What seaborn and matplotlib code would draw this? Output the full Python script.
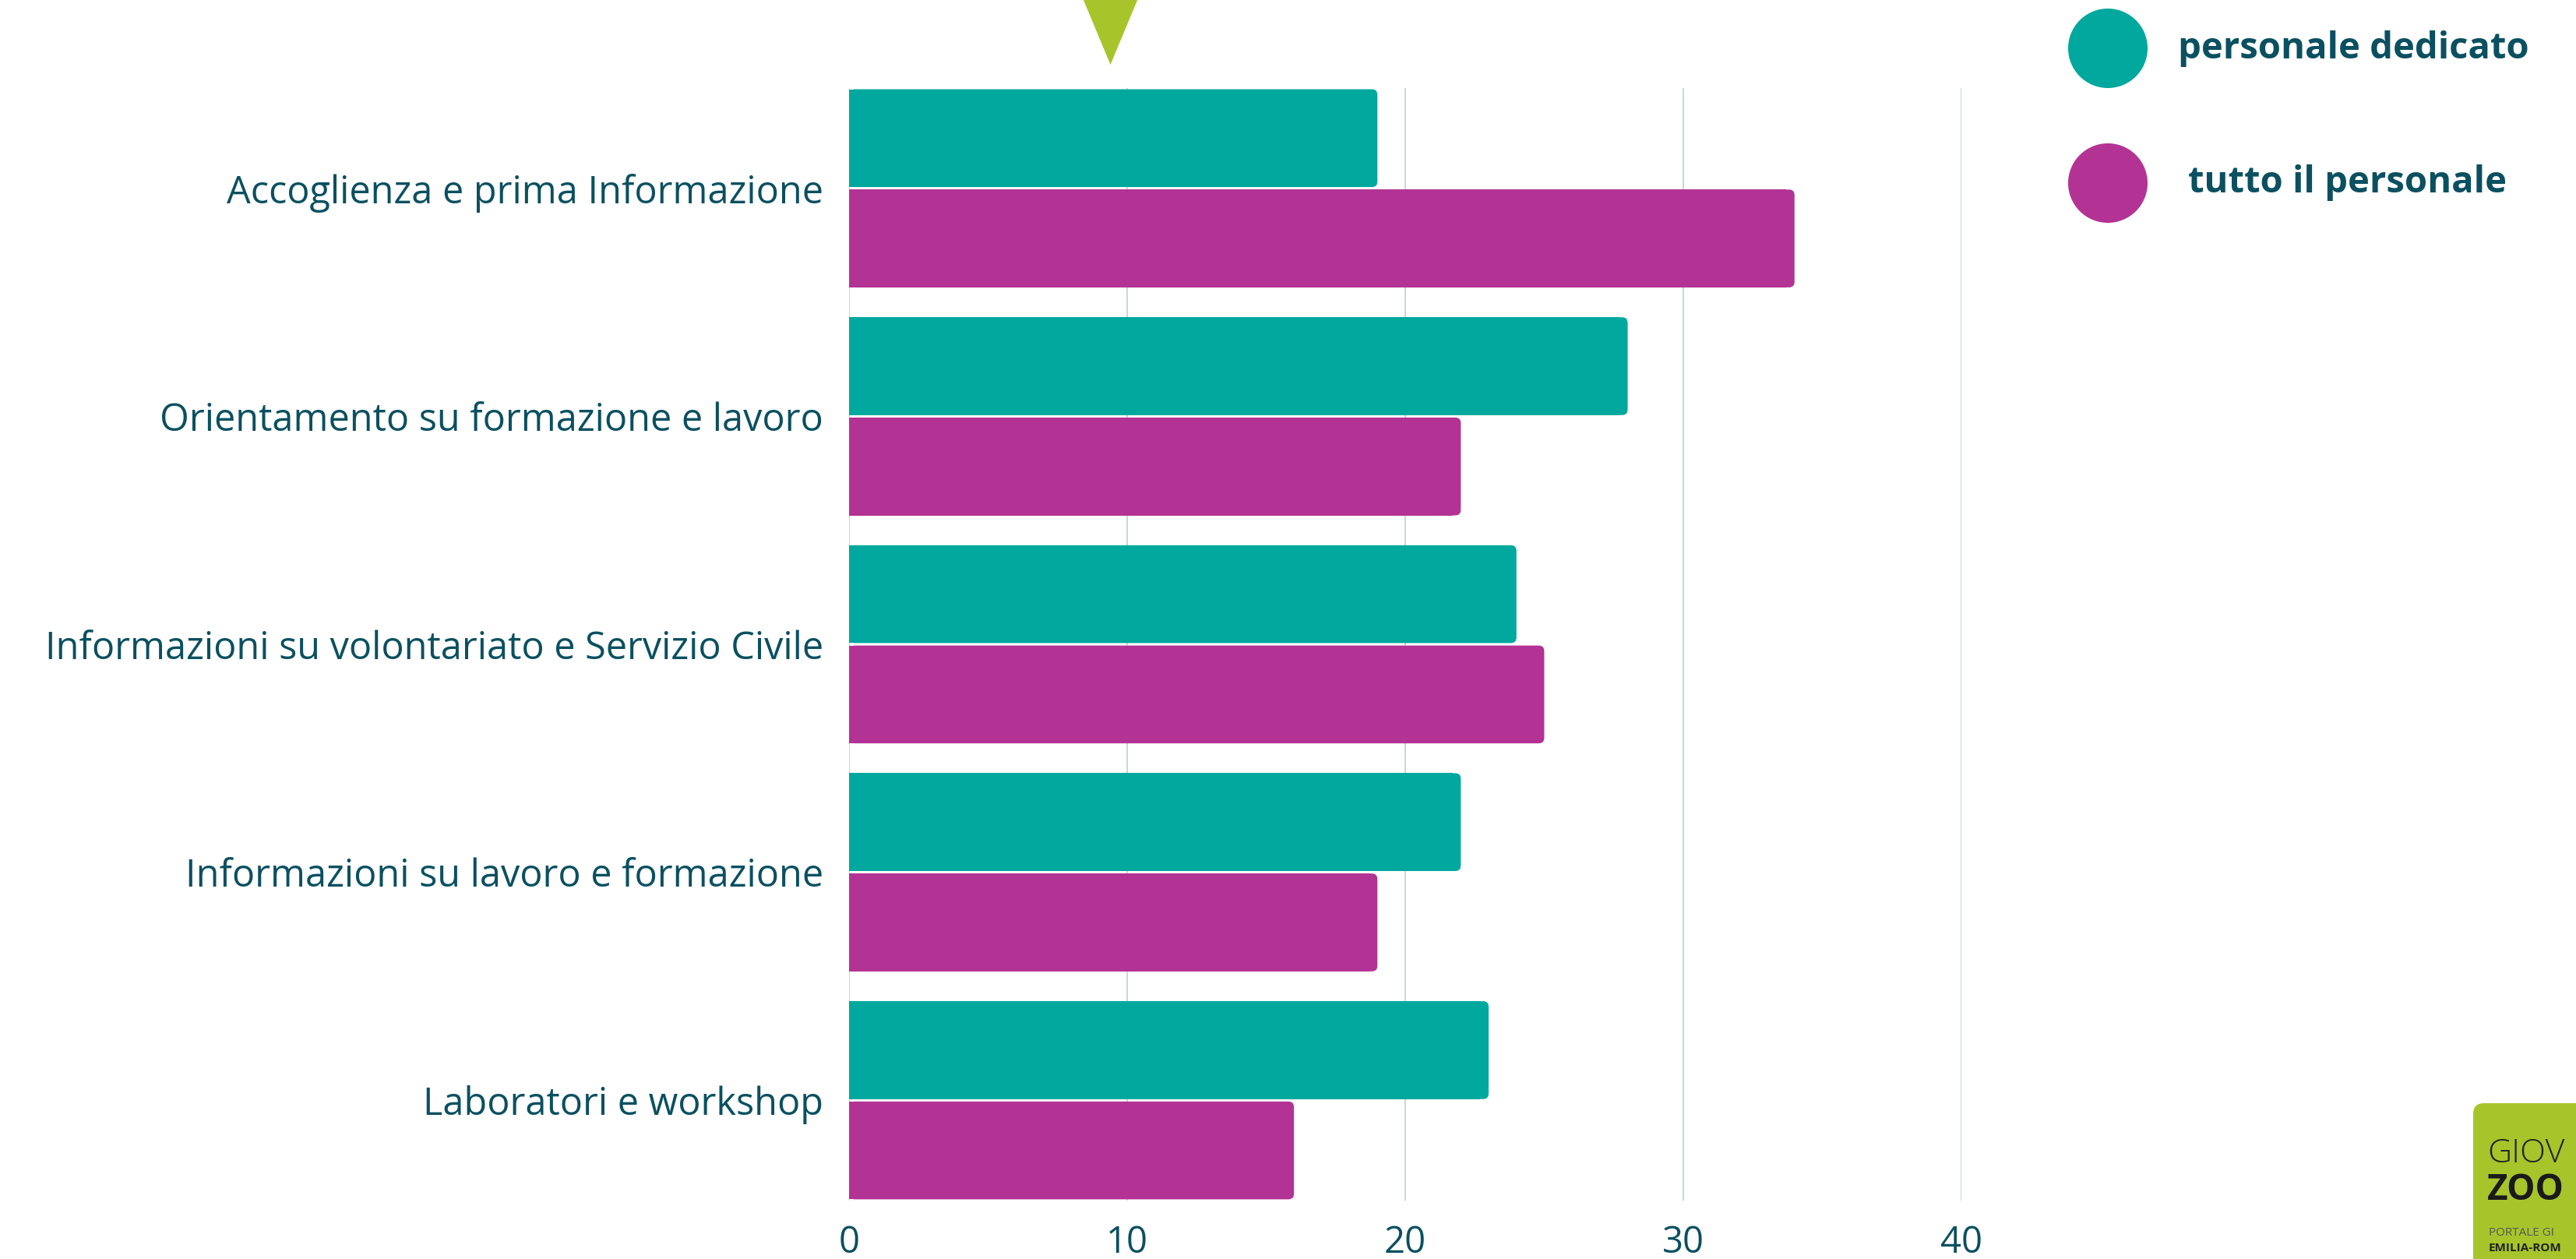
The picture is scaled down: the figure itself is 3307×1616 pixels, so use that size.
import pandas as pd
import seaborn as sns
import matplotlib.pyplot as plt
from matplotlib.patches import Circle, Polygon, FancyBboxPatch
from matplotlib.transforms import blended_transform_factory

# Data
categories = [
    "Accoglienza e prima Informazione",
    "Orientamento su formazione e lavoro",
    "Informazioni su volontariato e Servizio Civile",
    "Informazioni su lavoro e formazione",
    "Laboratori e workshop",
]
personale_dedicato = [19, 28, 24, 22, 23]
tutto_personale = [34, 22, 25, 19, 16]
series_names = ["personale dedicato", "tutto il personale"]
x_ticks = [0, 10, 20, 30, 40]
marker_value = 9.4  # green triangle on top

TEAL = "#00a89d"
MAGENTA = "#b33394"
TEXT = "#0b5060"
GREEN = "#a7c52b"

df = pd.DataFrame({
    "categoria": categories * 2,
    "valore": personale_dedicato + tutto_personale,
    "serie": [series_names[0]] * len(categories) + [series_names[1]] * len(categories),
})

sns.set_style("white")
plt.rcParams["font.family"] = ["Open Sans", "DejaVu Sans"]

fig = plt.figure(figsize=(33.07, 16.16), dpi=100)
ax = fig.add_axes([0.3296, 0.0464, 0.4318, 0.8837])

sns.barplot(data=df, y="categoria", x="valore", hue="serie",
            palette=[TEAL, MAGENTA], saturation=1, width=0.88, gap=0.025,
            orient="h", linewidth=0, legend=False, ax=ax)

ax.set_xlim(0, 40)
ax.set_ylim(len(categories) - 1 + 0.44, -0.44)

# round the right end of each bar a little
aspect = (1 / 292.6) / (1 / 35.7)
for p in list(ax.patches):
    x0, y0, w, h = p.get_x(), p.get_y(), p.get_width(), p.get_height()
    if w <= 0:
        continue
    ax.add_patch(FancyBboxPatch((x0, y0), w, h,
                                boxstyle="round,pad=0,rounding_size=0.2",
                                mutation_aspect=aspect,
                                facecolor=p.get_facecolor(), edgecolor="none",
                                zorder=p.get_zorder()))
    p.set_width(w - 0.3)

ax.set_xticks(x_ticks)
ax.set_xticklabels([str(t) for t in x_ticks])
ax.set_xlabel("")
ax.set_ylabel("")
ax.grid(axis="x", color="#c9d8db", linewidth=1.5)
ax.set_axisbelow(True)
for s in ax.spines.values():
    s.set_visible(False)
ax.tick_params(axis="both", length=0, labelcolor=TEXT)
ax.tick_params(axis="x", pad=22, labelsize=34)
ax.tick_params(axis="y", pad=24, labelsize=35)
for lab in ax.get_yticklabels() + ax.get_xticklabels():
    lab.set_fontweight(500)

# green triangle marker above the axis
tr = blended_transform_factory(ax.transData, fig.transFigure)
half_w = 0.97
tri = Polygon([[marker_value - half_w, 1.0], [marker_value + half_w, 1.0],
               [marker_value, 1 - 83 / 1616]], closed=True,
              facecolor=GREEN, edgecolor="none", transform=tr, clip_on=False)
fig.add_artist(tri)

# legend with circles (figure inches)
for i, (name, col) in enumerate(zip(series_names, [TEAL, MAGENTA])):
    cy_px = 62 + 173 * i
    circ = Circle((27.06, (1616 - cy_px) / 100), 0.51, facecolor=col,
                  edgecolor="none", transform=fig.dpi_scale_trans)
    fig.add_artist(circ)
    tx = 2796 if i == 0 else 2809
    fig.text(tx / 3307, 1 - cy_px / 1616, name, color=TEXT, fontsize=34,
             fontweight="bold", va="center", ha="left")

# logo in the corner (cut by the picture edge, as in the original)
logo = FancyBboxPatch((31.75, -0.5), 2.0, 2.5,
                      boxstyle="round,pad=0,rounding_size=0.14",
                      facecolor=GREEN, edgecolor="none",
                      transform=fig.dpi_scale_trans)
fig.add_artist(logo)
fig.text(3193 / 3307, 1 - 1481 / 1616, "GIOV", fontsize=31, color="#222222",
         va="center", ha="left", fontweight="light")
fig.text(3193 / 3307, 1 - 1527 / 1616, "ZOO", fontsize=33, color="#1a1a1a",
         va="center", ha="left", fontweight="bold")
fig.text(3195 / 3307, 1 - 1582 / 1616, "PORTALE GI", fontsize=11, color="#555555",
         va="center", ha="left")
fig.text(3195 / 3307, 1 - 1602 / 1616, "EMILIA-ROM", fontsize=11, color="#222222",
         va="center", ha="left", fontweight="bold")

plt.savefig("out.png", dpi=100)
